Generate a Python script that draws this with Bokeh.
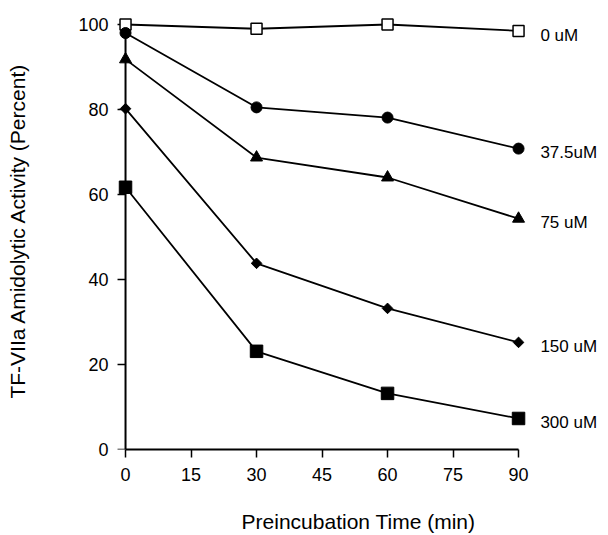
import math
from bokeh.plotting import figure
from bokeh.models import Range1d, FixedTicker, ColumnDataSource
from bokeh.core.properties import value
from bokeh.embed import file_html
from bokeh.resources import INLINE

# ---- data ----
times = [0, 30, 60, 90]
act_0uM = [100.0, 99.0, 100.0, 98.5]
act_37uM = [98.0, 80.5, 78.1, 70.8]
act_75uM = [91.8, 68.7, 64.0, 54.3]
act_150uM = [80.2, 43.8, 33.2, 25.2]
act_300uM = [61.7, 23.1, 13.2, 7.3]
series_labels = ["0 uM", "37.5uM", "75 uM", "150 uM", "300 uM"]
x_ticks = [0, 15, 30, 45, 60, 75, 90]
y_ticks = [0, 20, 40, 60, 80, 100]

FONT = "Liberation Sans"

p = figure(width=608, height=535, output_backend="svg", toolbar_location=None,
           x_range=Range1d(-3.9, 110.6), y_range=Range1d(0, 103.06),
           min_border_left=108, min_border_right=0, min_border_top=11,
           min_border_bottom=86)
p.outline_line_color = None
p.xgrid.visible = False
p.ygrid.visible = False

series = [
    (act_0uM, dict(marker="square", size=11, fill_color="white", line_color="black", line_width=1.5)),
    (act_37uM, dict(marker="circle", size=11, fill_color="black", line_color="black")),
    (act_75uM, dict(marker="triangle", size=12, fill_color="black", line_color="black")),
    (act_150uM, dict(marker="square", size=7.5, angle=math.pi / 4, fill_color="black", line_color="black")),
    (act_300uM, dict(marker="square", size=12.5, fill_color="black", line_color="black")),
]

# y axis rule and ticks drawn at x = 0 (inside the frame so the markers at t=0 are not clipped)
tick_len = 8 / 4.367
p.segment(x0=[0], y0=[y_ticks[0]], x1=[0], y1=[y_ticks[-1]], line_color="black", line_width=2)
p.segment(x0=[-tick_len] * len(y_ticks), y0=y_ticks, x1=[0] * len(y_ticks), y1=y_ticks,
          line_color="black", line_width=1.5)

for vals, _ in series:
    p.line(times, vals, line_color="black", line_width=1.8)
for vals, kw in series:
    p.scatter(times, vals, **kw)

# series labels next to last point
lab_src = ColumnDataSource(dict(x=[95] * 5, y=[s[0][-1] - 1.0 for s in series], t=series_labels))
p.text(x="x", y="y", text="t", source=lab_src, text_font=value(FONT), text_font_size="17px",
       text_baseline="middle", text_align="left", text_color="black")

# axes
xa = p.xaxis[0]
xa.ticker = FixedTicker(ticks=x_ticks)
xa.bounds = (0, 90)
xa.axis_line_width = 2
xa.major_tick_line_width = 1.5
xa.major_tick_out = 8
xa.major_tick_in = 0
xa.minor_tick_out = 0
xa.minor_tick_in = 0
xa.major_label_standoff = 10
xa.major_label_text_font = FONT
xa.major_label_text_font_size = "18px"
xa.major_label_text_color = "black"
xa.axis_label = "Preincubation Time (min)"
xa.axis_label_text_font = FONT
xa.axis_label_text_font_size = "21px"
xa.axis_label_text_font_style = "normal"
xa.axis_label_text_color = "black"
xa.axis_label_standoff = 26

ya = p.yaxis[0]
ya.ticker = FixedTicker(ticks=y_ticks)
ya.axis_line_color = None
ya.major_tick_out = 0
ya.major_tick_in = 0
ya.minor_tick_out = 0
ya.minor_tick_in = 0
ya.major_label_standoff = 0
ya.major_label_text_font = FONT
ya.major_label_text_font_size = "18px"
ya.major_label_text_color = "black"
ya.axis_label = "TF-VIIa Amidolytic Activity (Percent)"
ya.axis_label_text_font = FONT
ya.axis_label_text_font_size = "21px"
ya.axis_label_text_font_style = "normal"
ya.axis_label_text_color = "black"
ya.axis_label_standoff = 46

open("out.html", "w").write(file_html(p, INLINE))
